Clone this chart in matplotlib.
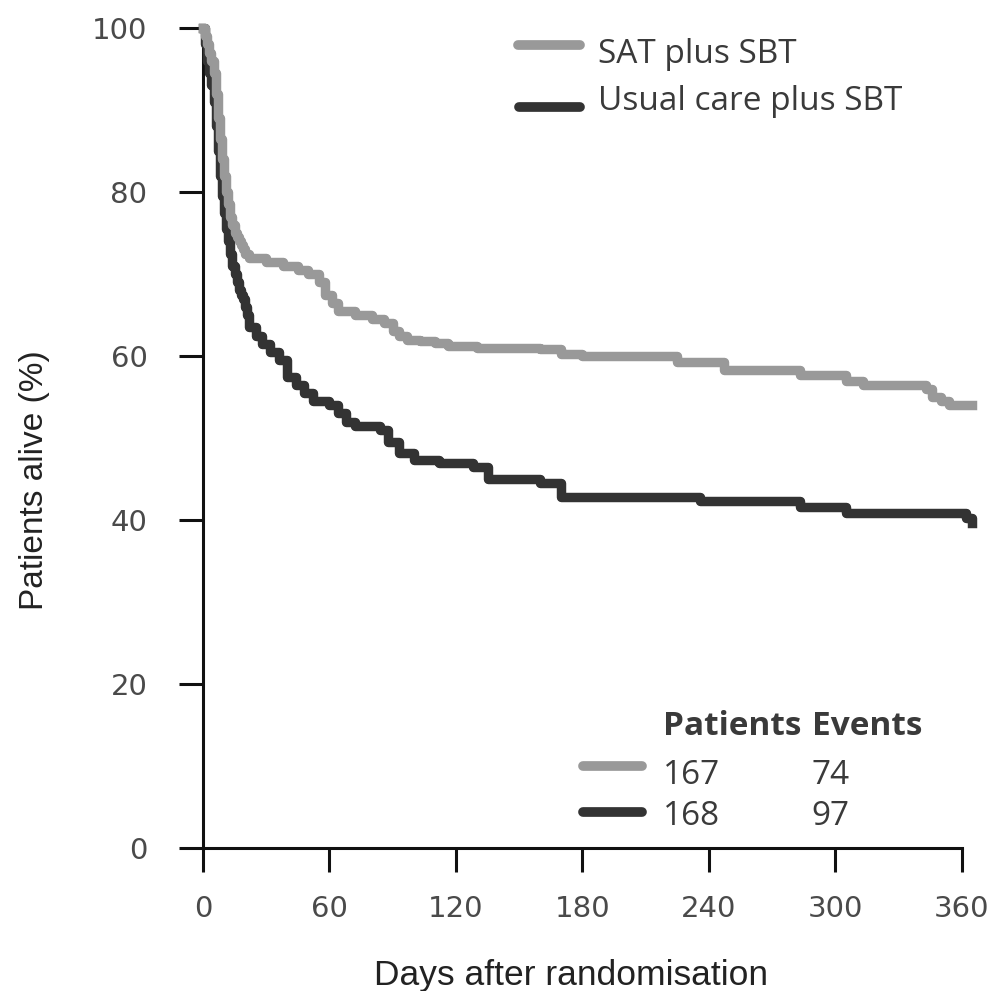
import matplotlib
matplotlib.use('Agg')
import matplotlib.pyplot as plt

# Kaplan-Meier step values
sat_days = [0, 1, 2, 3, 4, 5, 6, 7, 8, 9, 10, 11, 12, 13, 14, 15, 16, 17, 18, 19, 20, 22,
            30, 38, 45, 50, 55, 58, 61, 64, 72, 80, 86, 90, 93, 97, 103, 110, 116, 130,
            160, 170, 180, 200, 225, 247, 283, 305, 313, 343, 346, 350, 354, 365]
sat_alive = [100, 99, 98, 97, 96, 94.5, 92, 89, 86.5, 84, 82, 80, 78.5, 77, 76, 75, 74.5, 74, 73.5, 73, 72.5, 72,
             71.5, 71, 70.5, 70, 69, 67.5, 66.5, 65.5, 65, 64.5, 64, 63, 62.5, 62, 61.8, 61.6, 61.2, 61,
             60.8, 60.3, 60, 60, 59.3, 58.3, 57.7, 57, 56.5, 56, 55, 54.5, 54, 54]

usual_days = [0, 1, 2, 3, 4, 5, 6, 7, 8, 9, 10, 11, 12, 13, 14, 15, 16, 17, 18, 19, 20, 21, 22,
              25, 28, 32, 36, 40, 44, 48, 52, 60, 64, 68, 72, 84, 88, 93, 100, 112, 128, 135,
              160, 170, 236, 283, 305, 362, 365]
usual_alive = [100, 98, 96, 94.5, 93, 91, 88, 85, 82, 79.5, 77.5, 75.5, 74, 72.5, 71, 70, 69, 68, 67.5, 67, 66, 65, 63.5,
               62.5, 61.5, 60.5, 59.5, 57.5, 56.5, 55.5, 54.5, 54, 53, 52, 51.5, 51, 49.5, 48.2, 47.3, 47, 46.5, 45,
               44.5, 42.8, 42.3, 41.6, 40.8, 40.2, 39.6]

group_names = ['SAT plus SBT', 'Usual care plus SBT']
patients = [167, 168]
events = [74, 97]
colours = ['#999999', '#333333']

x_ticks = [0, 60, 120, 180, 240, 300, 360]
y_ticks = [0, 20, 40, 60, 80, 100]

fig = plt.figure(figsize=(9.93, 9.91), dpi=100)
ax = fig.add_axes([0.2044, 0.1443, 0.777, 0.8274])

lw = 6.8
ax.plot(sat_days, sat_alive, drawstyle='steps-post', color=colours[0], lw=lw,
        solid_joinstyle='round', clip_on=False, zorder=4)
ax.plot(usual_days, usual_alive, drawstyle='steps-post', color=colours[1], lw=lw,
        solid_joinstyle='round', clip_on=False, zorder=3)

ax.set_xlim(0, 366)
ax.set_ylim(0, 100)
ax.spines['top'].set_visible(False)
ax.spines['right'].set_visible(False)
ax.spines['bottom'].set_bounds(0, 360)
for s in ['left', 'bottom']:
    ax.spines[s].set_linewidth(2.2)
    ax.spines[s].set_color('#111111')

ax.set_xticks(x_ticks)
ax.set_yticks(y_ticks)
ax.tick_params(axis='both', direction='out', length=17, width=2.2, color='#111111',
               labelsize=21, labelcolor='#4a4a4a')
ax.tick_params(axis='y', pad=23)
ax.tick_params(axis='x', pad=17)

ax.set_xlabel('Days after randomisation', family='Liberation Sans', fontsize=25.5,
              color='#222222', va='center')
ax.xaxis.set_label_coords(0.477, -0.155)
ax.set_ylabel('Patients alive (%)', family='Liberation Sans', fontsize=24,
              color='#222222', va='center')
ax.yaxis.set_label_coords(-0.218, 0.449)

tf = ax.transAxes
txt = dict(family='Open Sans', fontsize=24, color='#3a3a3a', va='center', transform=tf)

# top legend
ax.plot([0.408, 0.489], [0.979, 0.979], color=colours[0], lw=7, solid_capstyle='round', transform=tf)
ax.plot([0.410, 0.489], [0.904, 0.904], color=colours[1], lw=7, solid_capstyle='round', transform=tf)
ax.text(0.512, 0.968, group_names[0], **txt)
ax.text(0.512, 0.910, group_names[1], **txt)

# patients / events table
ax.text(0.596, 0.148, 'Patients', fontweight='bold', **txt)
ax.text(0.789, 0.148, 'Events', fontweight='bold', **txt)
row_y = [0.088, 0.038]
line_y = [0.100, 0.044]
for i in range(2):
    ax.plot([0.4925, 0.569], [line_y[i], line_y[i]], color=colours[i], lw=7,
            solid_capstyle='round', transform=tf)
    ax.text(0.596, row_y[i], str(patients[i]), **txt)
    ax.text(0.789, row_y[i], str(events[i]), **txt)

fig.savefig('out.png', dpi=100)
